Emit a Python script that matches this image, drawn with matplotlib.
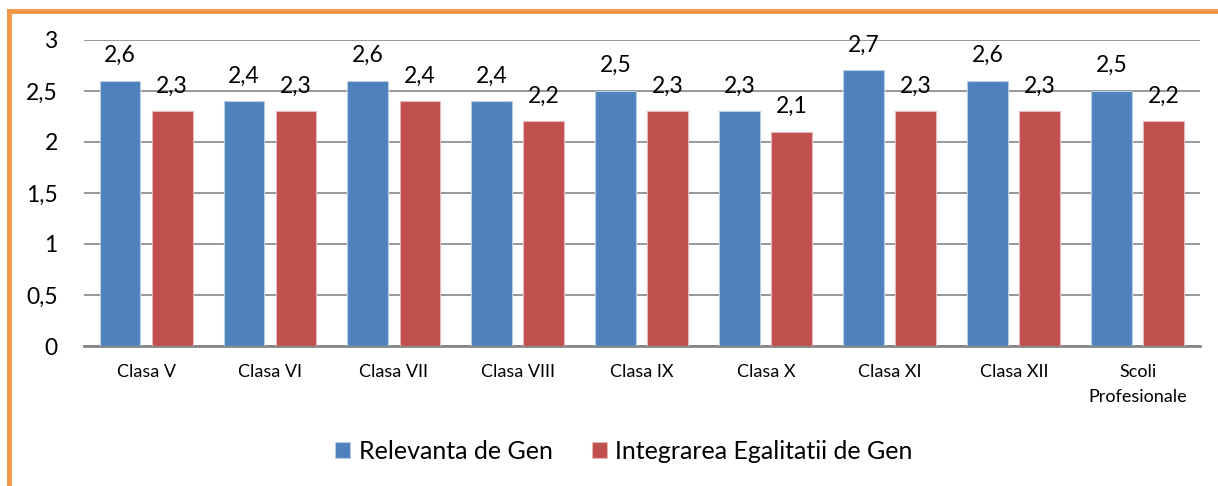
import numpy as np
import matplotlib.pyplot as plt
from matplotlib.lines import Line2D

plt.rcParams['font.family'] = ['Lato', 'DejaVu Sans']

categories = ['Clasa V', 'Clasa VI', 'Clasa VII', 'Clasa VIII', 'Clasa IX',
              'Clasa X', 'Clasa XI', 'Clasa XII', 'Scoli\nProfesionale']
relevanta = [2.6, 2.4, 2.6, 2.4, 2.5, 2.3, 2.7, 2.6, 2.5]
integrarea = [2.3, 2.3, 2.4, 2.2, 2.3, 2.1, 2.3, 2.3, 2.2]
series_names = ['Relevanta de Gen', 'Integrarea Egalitatii de Gen']
yticks = [0, 0.5, 1, 1.5, 2, 2.5, 3]

fig = plt.figure(figsize=(12.18, 4.86), dpi=100)
ax = fig.add_axes([0.069, 0.288, 0.916, 0.630])

x = np.arange(len(categories))
w = 0.33
b1 = ax.bar(x - 0.21, relevanta, w, color='#4F81BD', edgecolor='#B9CDE5', linewidth=0.8,
            label=series_names[0], zorder=3)
b2 = ax.bar(x + 0.21, integrarea, w, color='#C0504D', edgecolor='#E6B9B8', linewidth=0.8,
            label=series_names[1], zorder=3)

for bars in (b1, b2):
    for r in bars:
        h = r.get_height()
        ax.annotate(('%.1f' % h).replace('.', ','), (r.get_x() + r.get_width() / 2, h),
                    xytext=(0, 10.5), textcoords='offset points', ha='center', va='bottom',
                    fontsize=16.5)

ax.set_xlim(-0.5, len(categories) - 0.5)
ax.set_ylim(0, 3)
ax.set_yticks(yticks)
ax.set_yticklabels([('%g' % t).replace('.', ',') for t in yticks], fontsize=16.5)
ax.set_xticks(x)
ax.set_xticklabels(categories, fontsize=13)
for lab in ax.get_xticklabels():
    lab.set_linespacing(1.65)
ax.tick_params(axis='y', length=0, pad=19)
ax.tick_params(axis='x', length=0, pad=13)
ax.yaxis.grid(True, color='#868686', linewidth=1.2, zorder=0)
for s in ['left', 'right', 'top']:
    ax.spines[s].set_visible(False)
ax.spines['bottom'].set_color('#868686')
ax.spines['bottom'].set_linewidth(2)

ax.legend(loc='center', bbox_to_anchor=(0.484, -0.345), ncol=2, frameon=False,
          fontsize=18, handlelength=0.6, handleheight=0.6, handletextpad=0.35,
          columnspacing=1.55)

# orange frame (top and left edges visible)
fig.add_artist(Line2D([0.007, 1.0], [0.978, 0.978], color='#F79646', linewidth=3.5,
                      transform=fig.transFigure))
fig.add_artist(Line2D([0.007, 0.007], [0.0, 0.978], color='#F79646', linewidth=3.5,
                      transform=fig.transFigure))

fig.savefig('out.png', dpi=100)
